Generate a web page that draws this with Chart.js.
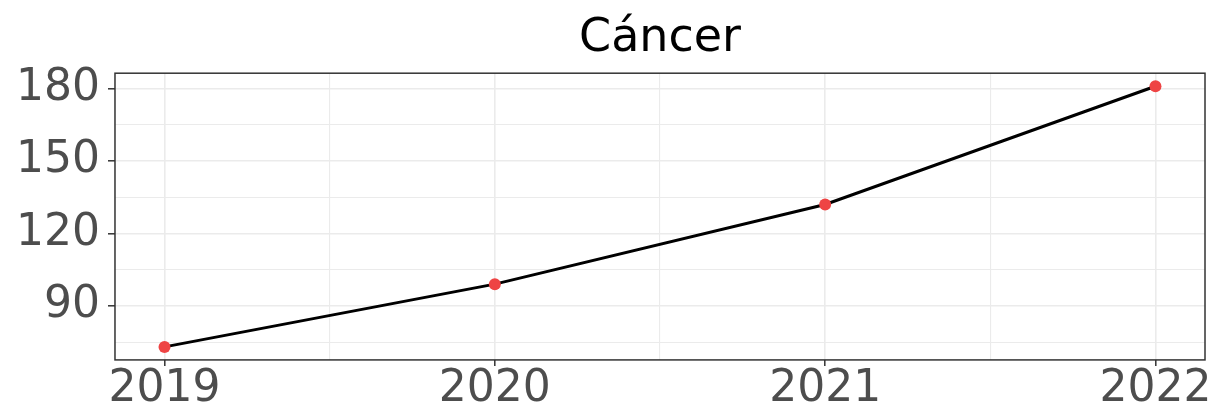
<!DOCTYPE html>
<html>
<head>
<meta charset="utf-8">
<script src="https://cdn.jsdelivr.net/npm/chart.js@4/dist/chart.umd.min.js"></script>
<style>
	html, body { margin: 0; padding: 0; background: #fff; overflow: hidden; }
	#wrap { width: 1216px; height: 409px; }
</style>
</head>
<body>
<div id="wrap"><canvas id="chart"></canvas></div>
<script>
var years = [2019, 2020, 2021, 2022];
var cancer = [73, 99, 132, 181];
var yTicks = [75, 90, 105, 120, 135, 150, 165, 180];
var xTicks = [2019, 2019.5, 2020, 2020.5, 2021, 2021.5, 2022];
var title = 'Cáncer';

var points = years.map(function(y, i) {
	return { x: y, y: cancer[i] };
});

function isMajorY(v) { return v % 30 === 0; }
function isMajorX(v) { return v % 1 === 0; }

var panelBorder = {
	id: 'panelBorder',
	beforeDatasetsDraw: function(chart) {
		var a = chart.chartArea;
		var ctx = chart.ctx;
		ctx.save();
		ctx.strokeStyle = '#333333';
		ctx.lineWidth = 1.5;
		ctx.strokeRect(a.left, a.top, a.right - a.left, a.bottom - a.top);
		ctx.restore();
	}
};

var ctx = document.getElementById('chart').getContext('2d');
var chart = new Chart(ctx, {
	type: 'line',
	data: {
		datasets: [{
			label: title,
			data: points,
			borderColor: '#000000',
			borderWidth: 3,
			pointBackgroundColor: '#EE4444',
			pointBorderColor: '#EE4444',
			pointRadius: 6,
			pointBorderWidth: 0,
			tension: 0
		}]
	},
	options: {
		responsive: true,
		maintainAspectRatio: false,
		animation: false,
		layout: { padding: { left: 8, right: 11, top: 0, bottom: -4 } },
		plugins: {
			legend: { display: false },
			tooltip: { enabled: false },
			title: {
				display: true,
				text: title,
				fullSize: false,
				color: '#000000',
				font: { family: 'DejaVu Sans', size: 46, weight: 'normal', lineHeight: 1.2 },
				padding: { top: 11, bottom: 7 }
			}
		},
		scales: {
			x: {
				type: 'linear',
				min: 2018.85,
				max: 2022.15,
				afterBuildTicks: function(scale) {
					scale.ticks = xTicks.map(function(v) { return { value: v }; });
				},
				ticks: {
					autoSkip: false,
					maxRotation: 0,
					padding: 0,
					color: '#4D4D4D',
					font: { family: 'DejaVu Sans', size: 44, lineHeight: 1.07 },
					callback: function(v) { return isMajorX(v) ? String(v) : ''; }
				},
				grid: {
					color: '#EBEBEB',
					lineWidth: function(c) { return c.tick && isMajorX(c.tick.value) ? 1.6 : 1.1; },
					tickLength: 6,
					tickColor: function(c) { return c.tick && isMajorX(c.tick.value) ? '#333333' : 'rgba(0,0,0,0)'; },
					tickWidth: 1.5
				},
				border: { display: false }
			},
			y: {
				type: 'linear',
				min: 67.6,
				max: 186.4,
				afterBuildTicks: function(scale) {
					scale.ticks = yTicks.map(function(v) { return { value: v }; });
				},
				ticks: {
					autoSkip: false,
					padding: 8,
					color: '#4D4D4D',
					font: { family: 'DejaVu Sans', size: 44, lineHeight: 0.8 },
					callback: function(v) { return isMajorY(v) ? String(v) : ''; }
				},
				grid: {
					color: '#EBEBEB',
					lineWidth: function(c) { return c.tick && isMajorY(c.tick.value) ? 1.6 : 1.1; },
					tickLength: 7,
					tickColor: function(c) { return c.tick && isMajorY(c.tick.value) ? '#333333' : 'rgba(0,0,0,0)'; },
					tickWidth: 1.5
				},
				border: { display: false }
			}
		}
	},
	plugins: [panelBorder]
});
</script>
</body>
</html>
